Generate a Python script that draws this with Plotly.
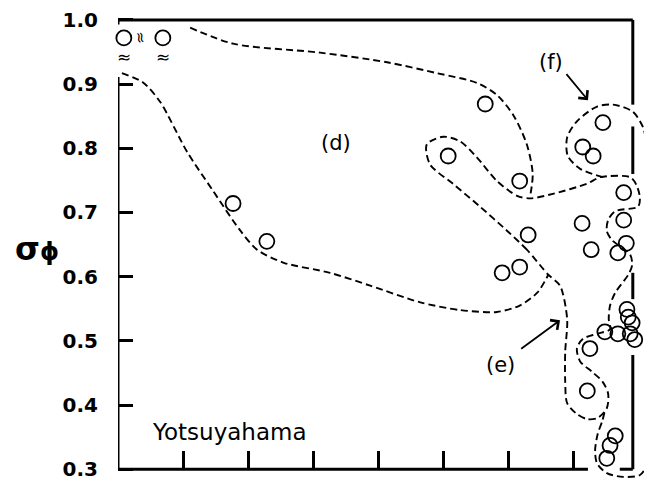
import plotly.graph_objects as go

# ---- data ----
pt_x = [0.09, 0.69, 1.77, 2.29, 5.65, 5.08, 6.18, 6.31, 5.91, 6.18,
        7.46, 7.15, 7.31, 7.78, 7.14, 7.78, 7.28, 7.69, 7.82,
        7.83, 7.85, 7.91, 7.88, 7.95, 7.49, 7.69, 7.26, 7.22,
        7.65, 7.57, 7.52]
pt_y = [0.972, 0.972, 0.714, 0.655, 0.869, 0.788, 0.749, 0.665, 0.606, 0.615,
        0.840, 0.802, 0.788, 0.731, 0.683, 0.688, 0.642, 0.637, 0.652,
        0.549, 0.537, 0.528, 0.511, 0.502, 0.514, 0.511, 0.488, 0.422,
        0.352, 0.337, 0.317]

d_top_x = [1.11, 1.77, 3.11, 4.14, 4.91, 5.52, 5.83, 6.08, 6.29, 6.38, 6.34]
d_top_y = [0.988, 0.963, 0.949, 0.934, 0.917, 0.902, 0.883, 0.852, 0.806, 0.760, 0.725]

d_bot_x = [0.06, 0.38, 0.65, 1.06, 1.46, 1.88, 2.14, 2.54, 3.26, 3.88, 4.65, 5.26, 5.83, 6.18, 6.45, 6.62]
d_bot_y = [0.917, 0.903, 0.872, 0.795, 0.734, 0.672, 0.642, 0.622, 0.606, 0.586, 0.560, 0.548, 0.545, 0.555, 0.575, 0.603]

e_x = [6.62, 6.29, 5.98, 5.57, 5.15, 4.80, 4.75, 5.00, 5.26, 5.52, 5.83, 6.14, 6.34, 6.69, 7.22, 7.42,
       7.88, 7.98, 8.03, 8.00, 7.65, 7.54, 7.52, 7.60, 7.88, 7.91, 7.85, 7.65, 7.57, 7.55, 7.57,
       7.37, 7.15, 7.06, 7.11, 7.29, 7.45, 7.54, 7.52, 7.38, 7.22, 7.06, 6.91, 6.88, 6.88, 6.91, 6.80, 6.62]
e_y = [0.603, 0.642, 0.672, 0.709, 0.745, 0.775, 0.806, 0.818, 0.811, 0.786, 0.749, 0.726, 0.722, 0.729, 0.745, 0.755,
       0.755, 0.742, 0.722, 0.709, 0.702, 0.688, 0.671, 0.657, 0.634, 0.618, 0.603, 0.575, 0.555, 0.534, 0.518,
       0.511, 0.503, 0.488, 0.468, 0.452, 0.437, 0.418, 0.395, 0.380, 0.378, 0.386, 0.403, 0.437, 0.483, 0.534, 0.586, 0.603]

f_x = [7.46, 7.11, 6.92, 6.91, 7.06, 7.37, 7.62, 7.92, 8.08, 8.14, 8.14, 8.14, 8.14, 8.14,
       8.03, 7.77, 7.52, 7.37, 7.34, 7.38, 7.45, 7.49]
f_y = [0.755, 0.768, 0.788, 0.817, 0.842, 0.865, 0.868, 0.857, 0.832, 0.795, 0.70, 0.55, 0.40, 0.309,
       0.291, 0.288, 0.294, 0.309, 0.329, 0.355, 0.375, 0.391]

y_ticks = [0.3, 0.4, 0.5, 0.6, 0.7, 0.8, 0.9, 1.0]
y_tick_text = ["0.3", "0.4", "0.5", "0.6", "0.7", "0.8", "0.9", "1.0"]
x_ticks = [1, 2, 3, 4, 5, 6, 7]

FONT = "DejaVu Sans"
DASH = "7px,4px"

fig = go.Figure()

for cx, cy in [(d_top_x, d_top_y), (d_bot_x, d_bot_y), (e_x, e_y), (f_x, f_y)]:
    fig.add_trace(go.Scatter(x=cx, y=cy, mode="lines",
                             line=dict(color="black", width=1.9, dash=DASH, shape="spline", smoothing=0.8),
                             hoverinfo="skip", showlegend=False))

fig.add_trace(go.Scatter(x=pt_x, y=pt_y, mode="markers",
                         marker=dict(symbol="circle-open", size=15, color="black", line=dict(width=1.8, color="black")),
                         showlegend=False, cliponaxis=False))

# frame (broken spines as in the original)
frame = [
    (0, 0.3, 0, 0.911),
    (0, 1.0, 7.92, 1.0),
    (0, 1.0, 0, 0.993),
    (7.92, 1.0, 7.92, 0.868),
    (7.92, 0.834, 7.92, 0.760),
    (7.92, 0.606, 7.92, 0.565),
    (7.92, 0.478, 7.92, 0.300),
    (0, 0.3, 7.23, 0.3),
    (7.72, 0.3, 7.92, 0.3),
]
for x0, y0, x1, y1 in frame:
    fig.add_shape(type="line", x0=x0, y0=y0, x1=x1, y1=y1, xref="x", yref="y",
                  line=dict(color="black", width=3))

ann = []
txt = dict(color="black", family=FONT, size=21)
ann.append(dict(x=3.35, y=0.809, text="(d)", showarrow=False, font=txt))
ann.append(dict(x=5.89, y=0.463, text="(e)", showarrow=False, font=txt))
ann.append(dict(x=6.66, y=0.934, text="(f)", showarrow=False, font=txt))
ann.append(dict(x=1.71, y=0.358, text="Yotsuyahama", showarrow=False,
                font=dict(color="black", family=FONT, size=23)))
ann.append(dict(x=7.23, y=0.875, ax=6.88, ay=0.918, axref="x", ayref="y", text="",
                showarrow=True, arrowhead=4, arrowsize=1.3, arrowwidth=1.8, arrowcolor="black"))
ann.append(dict(x=6.80, y=0.532, ax=6.18, ay=0.486, axref="x", ayref="y", text="",
                showarrow=True, arrowhead=4, arrowsize=1.3, arrowwidth=1.8, arrowcolor="black"))
for xx in [0.09, 0.69]:
    ann.append(dict(x=xx, y=0.942, text="≈", showarrow=False,
                    font=dict(color="black", family=FONT, size=17)))
ann.append(dict(x=0.35, y=0.972, text="≈", textangle=80, showarrow=False,
                font=dict(color="black", family=FONT, size=15)))

# page is drawn with an 8px body margin: figure occupies page px 8..652 x 8..486
W, H = 644, 478
ann.append(dict(x=(5 - 110) / 534, y=(486 - 246) / H, xref="paper", yref="paper", showarrow=False,
                xanchor="left", yanchor="middle",
                text="<b><span style='font-size:32px'>σ</span><span style='font-size:24px'>ϕ</span></b>",
                font=dict(color="black", family=FONT, size=30)))

fig.update_layout(
    width=W, height=H,
    margin=dict(l=110, r=0, t=0, b=0),
    paper_bgcolor="white", plot_bgcolor="white",
    showlegend=False,
    annotations=ann,
    xaxis=dict(range=[0, 534 / 65], showgrid=False, zeroline=False, showline=False,
               tickvals=x_ticks, ticks="inside", ticklen=18, tickwidth=2.5, tickcolor="black",
               showticklabels=False, anchor="free", position=17 / H),
    yaxis=dict(range=[0.3 - 17 / 650, 0.3 + 461 / 650], showgrid=False, zeroline=False, showline=False,
               tickvals=y_ticks, ticktext=y_tick_text, ticks="inside", ticklen=15, tickwidth=3,
               tickcolor="black", ticklabelstandoff=19, ticklabeloverflow="allow",
               tickfont=dict(family=FONT, size=20, color="black", weight="bold")),
)

fig.write_html("out.html")
